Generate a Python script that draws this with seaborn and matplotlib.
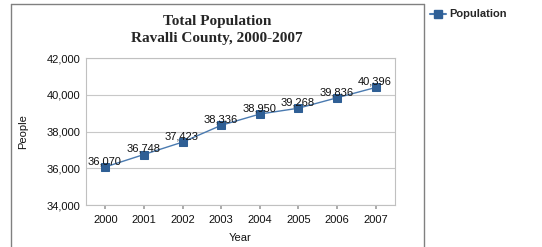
import matplotlib
matplotlib.use("Agg")
import matplotlib.pyplot as plt
import seaborn as sns
import pandas as pd
from matplotlib.lines import Line2D

years = ["2000", "2001", "2002", "2003", "2004", "2005", "2006", "2007"]
population = [36070, 36748, 37423, 38336, 38950, 39268, 39836, 40396]
yticks = [34000, 36000, 38000, 40000, 42000]

sns.set_theme(style="white")
plt.rcParams['font.family'] = ['Liberation Sans', 'DejaVu Sans']

df = pd.DataFrame({"Year": years, "People": population})
df["x"] = range(len(years))

W, H = 542, 247
fig = plt.figure(figsize=(W / 100, H / 100), dpi=100)
ax = fig.add_axes([86 / W, (H - 205) / H, 309 / W, 147 / H])

line_color = "#4a7ab0"
marker_color = "#2f5f95"
sns.lineplot(data=df, x="x", y="People", ax=ax, color=line_color, linewidth=1.0,
             marker="s", markersize=6, markerfacecolor=marker_color,
             markeredgecolor=marker_color, label="Population", legend=False)

for xi, v in zip(df["x"], df["People"]):
    ax.annotate(f"{v:,}", (xi, v), xytext=(-0.5, 0.5), textcoords="offset points",
                ha="center", va="bottom", fontsize=8, color="#111111")

ax.set_xlim(-0.5, len(years) - 0.5)
ax.set_ylim(34000, 42000)
ax.set_yticks(yticks)
ax.set_yticklabels([f"{t:,}" for t in yticks])
ax.set_xticks(df["x"])
ax.set_xticklabels(years)
ax.yaxis.grid(True, color="#c8c8c8", linewidth=0.8)
ax.set_axisbelow(True)
for s in ax.spines.values():
    s.set_color("#c0c0c0")
    s.set_linewidth(0.8)
ax.tick_params(axis="x", length=3, color="#a0a0a0", labelsize=8, pad=4, bottom=True)
ax.tick_params(axis="y", length=0, labelsize=8, pad=4)
for lbl in ax.get_xticklabels() + ax.get_yticklabels():
    lbl.set_color("#111111")
ax.set_xlabel("Year", fontsize=8, labelpad=6, color="#111111")
ax.set_ylabel("People", fontsize=8, labelpad=13, color="#111111")

fig.text(217 / W, 1 - 30 / H, "Total Population\nRavalli County, 2000-2007",
         ha="center", va="center", fontsize=11, fontweight="bold",
         family=["Liberation Serif", "DejaVu Serif"], linespacing=1.45)

# frame lines
fig.add_artist(Line2D([11 / W, 11 / W], [0, 1 - 4 / H], transform=fig.transFigure, color="#808080", lw=1))
fig.add_artist(Line2D([11 / W, 424 / W], [1 - 4 / H, 1 - 4 / H], transform=fig.transFigure, color="#808080", lw=1))
fig.add_artist(Line2D([424 / W, 424 / W], [0, 1 - 4 / H], transform=fig.transFigure, color="#808080", lw=1))

# legend
handle = Line2D([], [], color=line_color, lw=1.5, marker="s", markersize=6,
                markerfacecolor=marker_color, markeredgecolor=marker_color)
fig.legend([handle], ["Population"], loc="upper left", bbox_to_anchor=(426 / W, 1 - 5 / H),
           frameon=False, prop={"weight": "bold", "size": 8},
           handlelength=1.4, handletextpad=0.3, borderaxespad=0.2, borderpad=0.2)

fig.savefig("out.png", dpi=100)
